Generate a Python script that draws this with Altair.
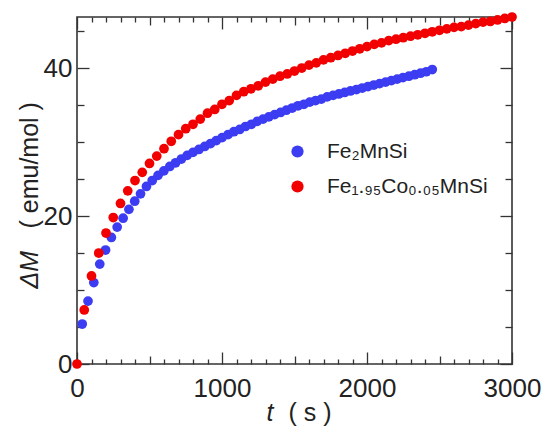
import altair as alt
import pandas as pd

# Fe2MnSi
t_blue = [36, 76, 116, 157, 197, 237, 277, 318, 358, 398, 438, 479, 519, 559, 599, 640,
          680, 720, 760, 800, 841, 881, 921, 961, 1001, 1042, 1082, 1122, 1162, 1203,
          1243, 1283, 1323, 1363, 1404, 1444, 1484, 1524, 1565, 1605, 1645, 1685, 1725,
          1766, 1806, 1846, 1886, 1927, 1967, 2007, 2047, 2087, 2128, 2168, 2208, 2248,
          2289, 2329, 2369, 2409, 2450]
m_blue = [5.4, 8.5, 11.0, 13.5, 15.4, 17.1, 18.5, 19.7, 20.9, 22.0, 23.0, 24.0, 24.8,
          25.5, 26.1, 26.7, 27.2, 27.7, 28.2, 28.6, 29.0, 29.4, 29.8, 30.2, 30.6, 31.0,
          31.4, 31.7, 32.1, 32.4, 32.8, 33.1, 33.4, 33.7, 34.0, 34.3, 34.6, 34.9, 35.1,
          35.4, 35.6, 35.8, 36.1, 36.3, 36.5, 36.7, 36.9, 37.1, 37.3, 37.5, 37.7, 37.9,
          38.1, 38.3, 38.5, 38.7, 38.9, 39.1, 39.3, 39.5, 39.8]

# Fe1.95Co0.05MnSi
t_red = [0, 50, 100, 150, 200, 250, 300, 350, 400, 450, 500, 550, 600, 650, 700, 750,
         800, 850, 900, 950, 1000, 1050, 1100, 1150, 1200, 1250, 1300, 1350, 1400, 1450,
         1500, 1550, 1600, 1650, 1700, 1750, 1800, 1850, 1900, 1950, 2000, 2050, 2100,
         2150, 2200, 2250, 2300, 2350, 2400, 2450, 2500, 2550, 2600, 2650, 2700, 2750,
         2800, 2850, 2900, 2950, 3000]
m_red = [0.0, 7.3, 11.9, 15.0, 17.7, 19.8, 21.7, 23.4, 24.8, 25.9, 27.1, 28.1, 29.1,
         30.1, 31.0, 31.8, 32.4, 33.1, 33.9, 34.4, 35.1, 35.6, 36.3, 36.8, 37.2, 37.6,
         38.1, 38.5, 38.9, 39.2, 39.6, 40.0, 40.4, 40.7, 41.1, 41.4, 41.7, 42.0, 42.3,
         42.6, 42.9, 43.2, 43.4, 43.7, 43.9, 44.1, 44.3, 44.5, 44.7, 44.9, 45.1, 45.3,
         45.5, 45.6, 45.8, 46.0, 46.2, 46.3, 46.5, 46.7, 46.9]

series_names = ["Fe\u2082MnSi", "Fe\u2081.\u2089\u2085Co\u2080.\u2080\u2085MnSi"]
series_colors = ["#3c3cf2", "#f20000"]

x_label_values = [0, 1000, 2000, 3000]
x_tick_values = list(range(0, 3001, 100))
y_label_values = [0, 20, 40]
y_tick_values = list(range(0, 46, 5))

df = pd.concat([
    pd.DataFrame({"t": t_blue, "M": m_blue, "series": series_names[0]}),
    pd.DataFrame({"t": t_red, "M": m_red, "series": series_names[1]}),
], ignore_index=True)

W, H = 435, 347
FONT = "Liberation Sans"
TICK = "#333333"
TXT = "#222222"

xscale = alt.Scale(domain=[0, 3000], nice=False, zero=False)
yscale = alt.Scale(domain=[0, 46.9], nice=False, zero=False)

x_ticksize = {"condition": [{"test": "datum.value % 1000 === 0", "value": 12},
                            {"test": "datum.value % 500 === 0", "value": 8}],
              "value": 5}
y_ticksize = {"condition": {"test": "datum.value % 20 === 0", "value": 12}, "value": 7}

common_tick = dict(domain=False, grid=False, labels=False, tickColor=TICK, tickWidth=1.3)

# layer 1: data points, labels, italic parts of titles
ax_x_labels = alt.Axis(orient="bottom", values=x_label_values, ticks=False, domain=False,
                       grid=False, labelFont=FONT, labelFontSize=26, labelColor=TXT,
                       labelPadding=11, labelFlush=False, labelOverlap=False, format="d",
                       title="t", titleFont=FONT, titleFontSize=25, titleFontStyle="italic",
                       titleFontWeight="normal", titleColor=TXT, titleX=189,
                       titleY=56, titleAlign="left", titleBaseline="alphabetic", titleAngle=0)
ax_y_labels = alt.Axis(orient="left", values=y_label_values, ticks=False, domain=False,
                       grid=False, labelFont=FONT, labelFontSize=26, labelColor=TXT,
                       labelPadding=5, labelFlush=False, labelOverlap=False, format="d",
                       title="\u0394M", titleFont=FONT, titleFontSize=25, titleFontStyle="italic",
                       titleFontWeight="normal", titleColor=TXT, titleX=-40,
                       titleY=271, titleAlign="left", titleBaseline="alphabetic", titleAngle=270)

points = alt.Chart(df).mark_circle(size=95, opacity=1).encode(
    x=alt.X("t:Q", scale=xscale, axis=ax_x_labels),
    y=alt.Y("M:Q", scale=yscale, axis=ax_y_labels),
    color=alt.Color("series:N", scale=alt.Scale(domain=series_names, range=series_colors),
                    sort=series_names,
                    legend=alt.Legend(orient="none", legendX=210, legendY=124, title=None,
                                      symbolType="circle", symbolSize=150, symbolStrokeWidth=0,
                                      labelFont=FONT, labelFontSize=21, labelColor=TXT,
                                      labelLimit=400, labelOffset=19, rowPadding=13,
                                      padding=0)),
)

# layer 2: inward ticks on bottom and left, plus upright parts of titles
ax_x_bottom_ticks = alt.Axis(orient="top", offset=-H, values=x_tick_values, tickSize=x_ticksize,
                             title="( s )", titleFont=FONT, titleFontSize=25,
                             titleFontWeight="normal", titleColor=TXT, titleX=211,
                             titleY=56, titleAlign="left", titleBaseline="alphabetic",
                             titleAngle=0, **common_tick)
ax_y_left_ticks = alt.Axis(orient="right", offset=-W, values=y_tick_values, tickSize=y_ticksize,
                           title="( emu/mol )", titleFont=FONT, titleFontSize=25,
                           titleFontWeight="normal", titleColor=TXT, titleX=-40,
                           titleY=211, titleAlign="left", titleBaseline="alphabetic",
                           titleAngle=270, **common_tick)

ticks_bl = alt.Chart(df).mark_circle(opacity=0).encode(
    x=alt.X("t:Q", scale=xscale, axis=ax_x_bottom_ticks),
    y=alt.Y("M:Q", scale=yscale, axis=ax_y_left_ticks),
)

# layer 3: inward ticks on top and right
ax_x_top_ticks = alt.Axis(orient="bottom", offset=-H, values=x_tick_values, tickSize=x_ticksize,
                          title=None, **common_tick)
ax_y_right_ticks = alt.Axis(orient="left", offset=-W, values=y_tick_values, tickSize=y_ticksize,
                            title=None, **common_tick)

ticks_tr = alt.Chart(df).mark_circle(opacity=0).encode(
    x=alt.X("t:Q", scale=xscale, axis=ax_x_top_ticks),
    y=alt.Y("M:Q", scale=yscale, axis=ax_y_right_ticks),
)

chart = alt.layer(ticks_bl, ticks_tr, points).resolve_axis(
    x="independent", y="independent"
).properties(
    width=W, height=H,
    autosize=alt.AutoSizeParams(type="none"),
    padding={"left": 77, "top": 17, "right": 30, "bottom": 71},
    background="white",
).configure_view(stroke="#333333", strokeWidth=1.6)

chart.save("out.html", embed_options={"renderer": "svg", "actions": False})
